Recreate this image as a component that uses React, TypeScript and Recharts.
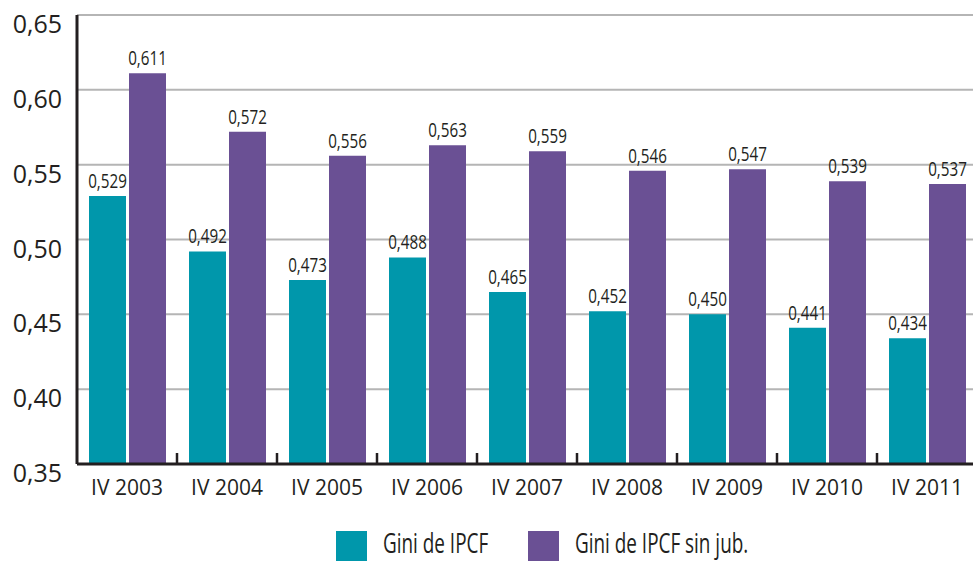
import React from "react";
import { BarChart, Bar, XAxis, YAxis, CartesianGrid, LabelList } from "recharts";

const categories = ["IV 2003", "IV 2004", "IV 2005", "IV 2006", "IV 2007", "IV 2008", "IV 2009", "IV 2010", "IV 2011"];
const giniIPCF = [0.529, 0.492, 0.473, 0.488, 0.465, 0.452, 0.45, 0.441, 0.434];
const giniSinJub = [0.611, 0.572, 0.556, 0.563, 0.559, 0.546, 0.547, 0.539, 0.537];
const yTicks = [0.35, 0.4, 0.45, 0.5, 0.55, 0.6, 0.65];
const seriesNames = ["Gini de IPCF", "Gini de IPCF sin jub."];
const seriesColors = ["#0097ab", "#6a5094"];
const seriesKeys = ["a", "b"];

const data = categories.map((c, i) => ({ cat: c, a: giniIPCF[i], b: giniSinJub[i] }));

const CHART_W = 977;
const CHART_H = 561;
const LEFT = 77;
const TOP = 15;
const BOTTOM_H = 97;
const PLOT_W = CHART_W - LEFT;
const BAND = PLOT_W / categories.length;

const tickFont = "'Open Sans', 'Noto Sans', sans-serif";
const condFont = "'Open Sans', 'Noto Sans', sans-serif";
const ink = "#231f20";

const fmt = (v: number, d: number) => v.toFixed(d).replace(".", ",");

const XTick = (props: any) => {
  const { x, y, payload, index } = props;
  return (
    <g>
      <text x={x} y={y + 23} textAnchor="middle" dominantBaseline="central" fill={ink} fontSize={21} fontFamily={tickFont}>
        {payload.value}
      </text>
      {index < categories.length - 1 && (
        <line x1={x + BAND / 2} x2={x + BAND / 2} y1={y} y2={y - 11} stroke={ink} strokeWidth={2.5} />
      )}
    </g>
  );
};

const YTick = (props: any) => {
  const { x, y, payload } = props;
  return (
    <text x={x} y={y + 8} textAnchor="end" dominantBaseline="central" fill={ink} fontSize={25} fontFamily={tickFont}>
      {fmt(payload.value, 2)}
    </text>
  );
};

const ValueLabel = (props: any) => {
  const { x, y, width, value } = props;
  const cx = x + width / 2;
  const by = y - 8;
  return (
    <text
      transform={`translate(${cx},${by}) scale(0.76,1)`}
      textAnchor="middle"
      fill={ink}
      fontSize={20}
      fontFamily={condFont}
    >
      {fmt(Number(value), 3)}
    </text>
  );
};

export default function App() {
  return (
    <div style={{ position: "fixed", left: 0, top: 0, width: 973, height: 561, overflow: "hidden", background: "#fff" }}>
      <BarChart
        width={CHART_W}
        height={CHART_H}
        data={data}
        margin={{ top: TOP, right: 0, bottom: 0, left: 0 }}
        barSize={37}
        barGap={3}
      >
        <CartesianGrid horizontal vertical={false} stroke="#b5b5b5" strokeWidth={2} />
        <XAxis
          dataKey="cat"
          height={BOTTOM_H}
          tickLine={false}
          tickSize={0}
          tickMargin={0}
          interval={0}
          axisLine={{ stroke: ink, strokeWidth: 3 }}
          tick={<XTick />}
        />
        <YAxis
          width={LEFT}
          domain={[0.35, 0.65]}
          ticks={yTicks}
          interval={0}
          tickLine={false}
          tickSize={0}
          tickMargin={15}
          axisLine={{ stroke: ink, strokeWidth: 3 }}
          tick={<YTick />}
          allowDataOverflow
        />
        {seriesKeys.map((k, i) => (
          <Bar key={k} dataKey={k} name={seriesNames[i]} fill={seriesColors[i]} isAnimationActive={false}>
            <LabelList dataKey={k} content={<ValueLabel />} />
          </Bar>
        ))}
      </BarChart>
      <div style={{ position: "absolute", top: 531, left: 336, display: "flex", alignItems: "flex-start" }}>
        {seriesNames.map((n, i) => (
          <div key={n} style={{ display: "flex", alignItems: "flex-start", width: i === 0 ? 192 : "auto" }}>
            <div style={{ width: 31, height: 31, background: seriesColors[i], flex: "none" }} />
            <span
              style={{
                display: "inline-block",
                marginLeft: 16,
                marginTop: -1,
                fontFamily: condFont,
                fontSize: 27,
                lineHeight: "26px",
                color: ink,
                whiteSpace: "nowrap",
                transform: "scaleX(0.7)",
                transformOrigin: "left center",
              }}
            >
              {n}
            </span>
          </div>
        ))}
      </div>
    </div>
  );
}
